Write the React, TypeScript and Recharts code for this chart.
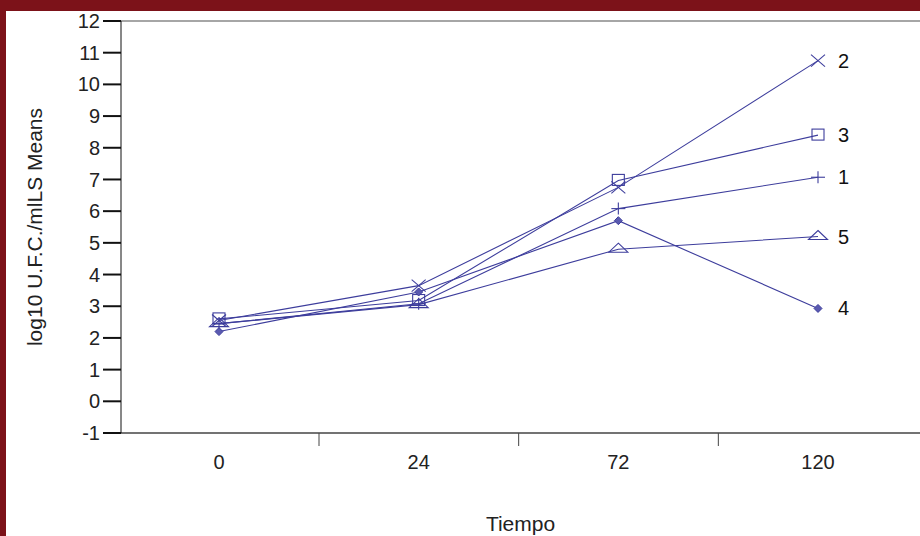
import React from "react";
import { LineChart, Line, XAxis, YAxis, ReferenceLine, LabelList } from "recharts";

const tiempo = ["0", "24", "72", "120"];
const serie1 = [2.45, 3.08, 6.08, 7.07];
const serie2 = [2.55, 3.65, 6.75, 10.75];
const serie3 = [2.6, 3.18, 6.97, 8.4];
const serie4 = [2.2, 3.45, 5.7, 2.93];
const serie5 = [2.45, 3.05, 4.8, 5.2];
const yTicks = [-1, 0, 1, 2, 3, 4, 5, 6, 7, 8, 9, 10, 11, 12];

const data = tiempo.map((t, i) => ({
    t,
    s1: serie1[i],
    s2: serie2[i],
    s3: serie3[i],
    s4: serie4[i],
    s5: serie5[i]
}));

const BLUE = "#3d3d9c";
const FONT = "'Liberation Sans', Arial, sans-serif";

// marker shapes, SAS style
const PlusDot = (p: any) => {
    const { cx, cy } = p;
    return <g stroke={BLUE} strokeWidth={1.1}>
        <line x1={cx - 7} y1={cy} x2={cx + 7} y2={cy} />
        <line x1={cx} y1={cy - 6} x2={cx} y2={cy + 6} />
    </g>;
};
const CrossDot = (p: any) => {
    const { cx, cy } = p;
    return <g stroke={BLUE} strokeWidth={1.1}>
        <line x1={cx - 7} y1={cy - 6} x2={cx + 7} y2={cy + 6} />
        <line x1={cx - 7} y1={cy + 6} x2={cx + 7} y2={cy - 6} />
    </g>;
};
const SquareDot = (p: any) => {
    const { cx, cy } = p;
    return <rect x={cx - 6} y={cy - 6} width={12} height={11} fill="none" stroke={BLUE} strokeWidth={1.1} />;
};
const DiamondDot = (p: any) => {
    const { cx, cy } = p;
    return <polygon points={`${cx},${cy - 4} ${cx + 4},${cy} ${cx},${cy + 4} ${cx - 4},${cy}`} fill="#5a5ab0" stroke={BLUE} strokeWidth={1} />;
};
const TriangleDot = (p: any) => {
    const { cx, cy } = p;
    return <polygon points={`${cx},${cy - 6} ${cx + 9.5},${cy + 3} ${cx - 9.5},${cy + 3}`} fill="none" stroke={BLUE} strokeWidth={1.1} />;
};

// series name written after the last point
const endLabel = (name: string) => (props: any) => {
    const { x, y, index } = props;
    if (index !== tiempo.length - 1) return null;
    return <text x={x + 20} y={y + 7} fontSize={20} fontFamily={FONT} fill="#111">{name}</text>;
};

const XTick = (props: any) => {
    const { x, y, payload } = props;
    return <g>
        <text x={x} y={y + 28} textAnchor="middle" fontSize={20} fontFamily={FONT} fill="#222">{payload.value}</text>
        {payload.index < tiempo.length - 1 &&
            <line x1={x + 100} y1={y - 8} x2={x + 100} y2={y + 5} stroke="#444" strokeWidth={1} />}
    </g>;
};

export default function App() {
    return <div style={{ position: "absolute", left: 0, top: 0, width: 920, height: 536, background: "#7c1219" }}>
        <div style={{ position: "absolute", left: 6, top: 11, width: 914, height: 525, background: "#ffffff" }} />
        <div style={{ position: "absolute", left: 0, top: 0 }}>
            <LineChart width={920} height={536} data={data} margin={{ top: 21, right: 0, bottom: 0, left: 0 }}>
                <XAxis dataKey="t" height={103} tickLine={false} axisLine={{ stroke: "#444", strokeWidth: 1.5 }}
                    tick={<XTick />} interval={0} padding={{ left: 98, right: 102 }}
                    label={{ value: "Tiempo", position: "insideBottom", offset: 5, fontSize: 21, fontFamily: FONT, fill: "#222" }} />
                <YAxis type="number" domain={[-1, 12]} ticks={yTicks} width={121} interval={0}
                    axisLine={{ stroke: "#111", strokeWidth: 1 }}
                    tickLine={{ stroke: "#111", strokeWidth: 2 }} tickSize={18} tickMargin={3}
                    tick={{ fontSize: 20, fontFamily: FONT, fill: "#222" }}
                    label={{ value: "log10 U.F.C./mlLS Means", angle: -90, position: "insideLeft", offset: 35, fontSize: 21, fontFamily: FONT, fill: "#222", style: { textAnchor: "middle" } }} />
                <ReferenceLine y={12} stroke="#888" strokeWidth={1.5} />
                <Line dataKey="s1" stroke={BLUE} strokeWidth={1.1} dot={<PlusDot />} activeDot={false} isAnimationActive={false}>
                    <LabelList dataKey="s1" content={endLabel("1")} />
                </Line>
                <Line dataKey="s2" stroke={BLUE} strokeWidth={1.1} dot={<CrossDot />} activeDot={false} isAnimationActive={false}>
                    <LabelList dataKey="s2" content={endLabel("2")} />
                </Line>
                <Line dataKey="s3" stroke={BLUE} strokeWidth={1.1} dot={<SquareDot />} activeDot={false} isAnimationActive={false}>
                    <LabelList dataKey="s3" content={endLabel("3")} />
                </Line>
                <Line dataKey="s4" stroke={BLUE} strokeWidth={1.1} dot={<DiamondDot />} activeDot={false} isAnimationActive={false}>
                    <LabelList dataKey="s4" content={endLabel("4")} />
                </Line>
                <Line dataKey="s5" stroke={BLUE} strokeWidth={1.1} dot={<TriangleDot />} activeDot={false} isAnimationActive={false}>
                    <LabelList dataKey="s5" content={endLabel("5")} />
                </Line>
            </LineChart>
        </div>
    </div>;
}
